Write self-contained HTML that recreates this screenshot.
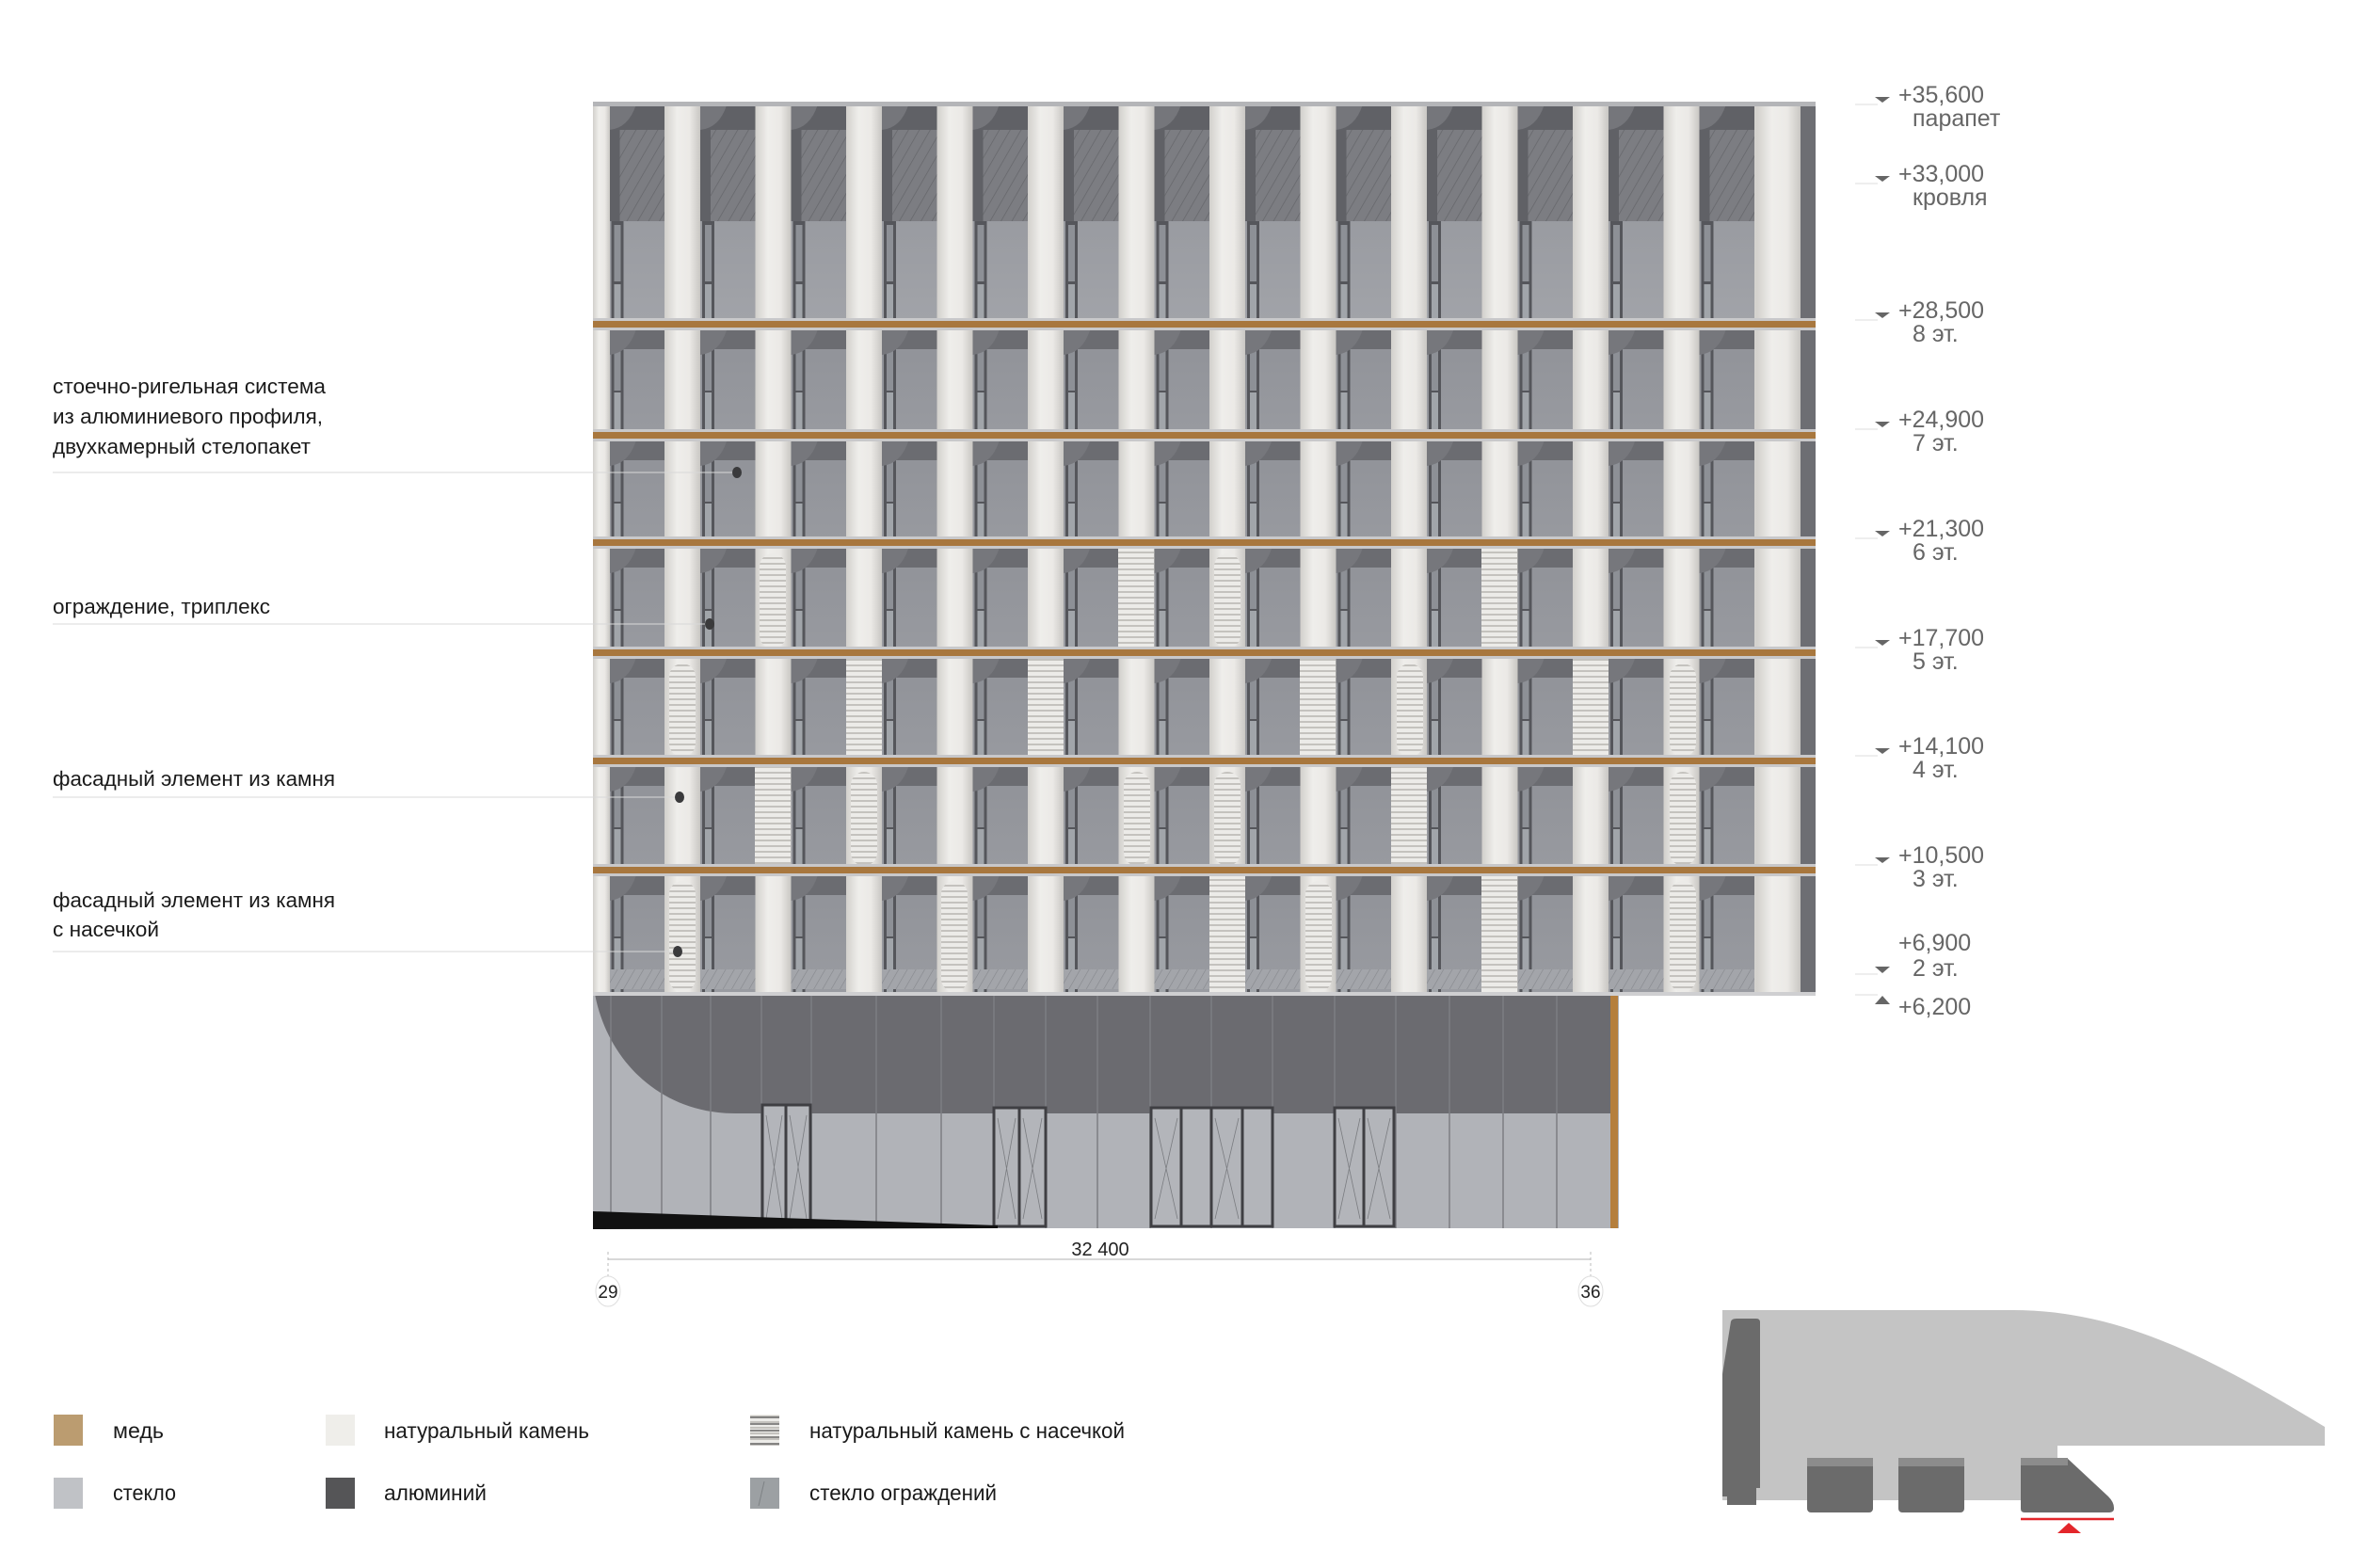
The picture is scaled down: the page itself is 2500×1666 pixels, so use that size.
<!DOCTYPE html>
<html><head><meta charset="utf-8"><style>
html,body{margin:0;padding:0;background:#fff;}
svg{display:block;}
text{font-family:"Liberation Sans","DejaVu Sans",sans-serif;}
</style></head><body>
<svg width="2500" height="1666" viewBox="0 0 2500 1666" xmlns="http://www.w3.org/2000/svg">
<defs>
<linearGradient id="stone" x1="0" x2="1" y1="0" y2="0">
<stop offset="0" stop-color="#d2d0cc"/><stop offset="0.35" stop-color="#efeeeb"/><stop offset="0.7" stop-color="#ebe9e6"/><stop offset="1" stop-color="#c9c7c3"/></linearGradient>
<linearGradient id="glassG" x1="0" x2="0" y1="0" y2="1">
<stop offset="0" stop-color="#909298"/><stop offset="1" stop-color="#aeb0b5"/></linearGradient>
<pattern id="hatch" width="10" height="10" patternUnits="userSpaceOnUse" patternTransform="rotate(30)">
<rect width="10" height="10" fill="#7c7d82"/><line x1="0" y1="0" x2="0" y2="10" stroke="#65666b" stroke-width="1.5"/></pattern>
<pattern id="hatchL" width="8" height="8" patternUnits="userSpaceOnUse" patternTransform="rotate(30)">
<rect width="8" height="8" fill="#a3a5aa"/><line x1="0" y1="0" x2="0" y2="8" stroke="#85878c" stroke-width="1.2"/></pattern>
<pattern id="stripe" width="10" height="6" patternUnits="userSpaceOnUse">
<rect width="10" height="6" fill="#ecebe8"/><rect y="4" width="10" height="2" fill="#c4c2be"/></pattern>
<g id="mod">
<rect x="0" y="0" width="96.5" height="400" fill="url(#glassG)"/>
<rect x="38" y="0" width="58.5" height="20" fill="#6b6c71"/>
<rect x="40" y="10" width="13" height="300" fill="#55565b"/>
<rect x="43" y="14" width="7" height="50" fill="#8d9096"/>
<rect x="43" y="66" width="7" height="300" fill="#a1a5aa"/>
<rect x="0" y="0" width="38" height="400" fill="url(#stone)"/>
<path d="M38,0 L38,26 Q58,24 66,0 Z" fill="#76777c"/>
</g>
<g id="modTop">
<rect x="0" y="0" width="96.5" height="400" fill="url(#glassG)"/>
<rect x="38" y="0" width="58.5" height="123" fill="#606166"/>
<rect x="49" y="26" width="47.5" height="97" fill="url(#hatch)"/>
<rect x="40" y="123" width="13" height="300" fill="#55565b"/>
<rect x="43" y="127" width="7" height="60" fill="#8d9096"/>
<rect x="43" y="190" width="7" height="300" fill="#a1a5aa"/>
<rect x="0" y="0" width="38" height="400" fill="url(#stone)"/>
<path d="M38,0 L38,26 Q58,24 66,0 Z" fill="#75767b"/>
</g>
<pattern id="pT" x="706" y="112" width="96.5" height="400" patternUnits="userSpaceOnUse"><use href="#modTop"/></pattern>
<pattern id="p1" x="706" y="351" width="96.5" height="400" patternUnits="userSpaceOnUse"><use href="#mod"/></pattern>
<pattern id="p2" x="706" y="469" width="96.5" height="400" patternUnits="userSpaceOnUse"><use href="#mod"/></pattern>
<pattern id="p3" x="706" y="583" width="96.5" height="400" patternUnits="userSpaceOnUse"><use href="#mod"/></pattern>
<pattern id="p4" x="706" y="700" width="96.5" height="400" patternUnits="userSpaceOnUse"><use href="#mod"/></pattern>
<pattern id="p5" x="706" y="815" width="96.5" height="400" patternUnits="userSpaceOnUse"><use href="#mod"/></pattern>
<pattern id="p6" x="706" y="931" width="96.5" height="400" patternUnits="userSpaceOnUse"><use href="#mod"/></pattern>
<pattern id="p6h" x="706" y="1030" width="96.5" height="40" patternUnits="userSpaceOnUse"><rect x="38" y="0" width="58.5" height="21" fill="url(#hatchL)"/></pattern>
</defs>

<!-- upper building -->
<rect x="630" y="112" width="1299" height="228" fill="url(#pT)"/>
<rect x="630" y="351" width="1299" height="107" fill="url(#p1)"/>
<rect x="630" y="469" width="1299" height="103" fill="url(#p2)"/>
<rect x="630" y="583" width="1299" height="106" fill="url(#p3)"/>
<rect x="630" y="700" width="1299" height="104" fill="url(#p4)"/>
<rect x="630" y="815" width="1299" height="105" fill="url(#p5)"/>
<rect x="630" y="931" width="1299" height="123" fill="url(#p6)"/>
<rect x="630" y="1030" width="1299" height="21" fill="url(#p6h)"/>
<!-- left stone edge -->
<rect x="630" y="112" width="18" height="942" fill="url(#stone)"/>
<!-- right end -->
<rect x="1866" y="112" width="47" height="942" fill="url(#stone)"/>
<rect x="1913" y="112" width="16" height="942" fill="#6d6e73"/>
<rect x="630" y="108" width="1299" height="5" fill="#b4b5b8"/>

<!-- textured pillars: flat striped -->
<g fill="url(#stripe)">
<rect x="1188" y="583" width="38" height="106"/><rect x="1574" y="583" width="38" height="106"/>
<rect x="899" y="700" width="38" height="104"/><rect x="1092" y="700" width="38" height="104"/><rect x="1381" y="700" width="38" height="104"/><rect x="1671" y="700" width="38" height="104"/>
<rect x="802" y="815" width="38" height="105"/><rect x="1478" y="815" width="38" height="105"/>
<rect x="1285" y="931" width="38" height="123"/><rect x="1574" y="931" width="38" height="123"/>
</g>
<!-- round striped -->
<g fill="url(#stripe)">
<rect x="807" y="588" width="28" height="101" rx="14"/><rect x="1290" y="588" width="28" height="101" rx="14"/>
<rect x="711" y="705" width="28" height="99" rx="14"/><rect x="1484" y="705" width="28" height="99" rx="14"/><rect x="1774" y="705" width="28" height="99" rx="14"/>
<rect x="904" y="820" width="28" height="100" rx="14"/><rect x="1194" y="820" width="28" height="100" rx="14"/><rect x="1290" y="820" width="28" height="100" rx="14"/><rect x="1774" y="820" width="28" height="100" rx="14"/>
<rect x="711" y="936" width="28" height="118" rx="14"/><rect x="1000" y="936" width="28" height="118" rx="14"/><rect x="1387" y="936" width="28" height="118" rx="14"/><rect x="1774" y="936" width="28" height="118" rx="14"/>
</g>

<!-- floor bands -->
<g>
<rect x="630" y="338" width="1299" height="13" fill="#c8c8ca"/><rect x="630" y="341" width="1299" height="7" fill="#a8773e"/>
<rect x="630" y="456" width="1299" height="13" fill="#c8c8ca"/><rect x="630" y="459" width="1299" height="7" fill="#a8773e"/>
<rect x="630" y="570" width="1299" height="13" fill="#c8c8ca"/><rect x="630" y="573" width="1299" height="7" fill="#a8773e"/>
<rect x="630" y="687" width="1299" height="13" fill="#c8c8ca"/><rect x="630" y="690" width="1299" height="7" fill="#a8773e"/>
<rect x="630" y="802" width="1299" height="13" fill="#c8c8ca"/><rect x="630" y="805" width="1299" height="7" fill="#a8773e"/>
<rect x="630" y="918" width="1299" height="13" fill="#c8c8ca"/><rect x="630" y="921" width="1299" height="7" fill="#a8773e"/>
</g>

<!-- podium -->
<rect x="630" y="1054" width="1090" height="251" fill="#b1b3b8"/>
<path d="M630,1056 L1714,1056 L1714,1183 L781,1183 C700,1183 645,1125 632,1056 Z" fill="#6b6b70"/>
<rect x="630" y="1054" width="1299" height="4" fill="#cfcfd1"/>
<g stroke="#7d7e83" stroke-width="1.5">
<line x1="649" y1="1058" x2="649" y2="1305"/><line x1="703" y1="1058" x2="703" y2="1305"/><line x1="755" y1="1058" x2="755" y2="1305"/><line x1="809" y1="1058" x2="809" y2="1305"/><line x1="862" y1="1058" x2="862" y2="1305"/><line x1="931" y1="1058" x2="931" y2="1305"/><line x1="1000" y1="1058" x2="1000" y2="1305"/><line x1="1056" y1="1058" x2="1056" y2="1305"/><line x1="1111" y1="1058" x2="1111" y2="1305"/><line x1="1166" y1="1058" x2="1166" y2="1305"/><line x1="1222" y1="1058" x2="1222" y2="1305"/><line x1="1287" y1="1058" x2="1287" y2="1305"/><line x1="1352" y1="1058" x2="1352" y2="1305"/><line x1="1418" y1="1058" x2="1418" y2="1305"/><line x1="1483" y1="1058" x2="1483" y2="1305"/><line x1="1540" y1="1058" x2="1540" y2="1305"/><line x1="1597" y1="1058" x2="1597" y2="1305"/><line x1="1654" y1="1058" x2="1654" y2="1305"/>
</g>
<g fill="#b3b5ba" stroke="#3f3f43" stroke-width="3">
<rect x="810" y="1174" width="51" height="129"/><rect x="1056" y="1177" width="55" height="126"/><rect x="1223" y="1177" width="129" height="126"/><rect x="1418" y="1177" width="63" height="126"/>
</g>
<g stroke="#3f3f43" stroke-width="3">
<line x1="835" y1="1174" x2="835" y2="1303"/><line x1="1083" y1="1177" x2="1083" y2="1303"/><line x1="1255" y1="1177" x2="1255" y2="1303"/><line x1="1287" y1="1177" x2="1287" y2="1303"/><line x1="1320" y1="1177" x2="1320" y2="1303"/><line x1="1449" y1="1177" x2="1449" y2="1303"/>
</g>
<g stroke="#7a7c80" stroke-width="0.8" fill="none">
<path d="M814,1185 L831,1295 M831,1185 L814,1295 M839,1185 L857,1295 M857,1185 L839,1295"/>
<path d="M1060,1188 L1079,1295 M1079,1188 L1060,1295 M1087,1188 L1107,1295 M1107,1188 L1087,1295"/>
<path d="M1227,1188 L1251,1295 M1251,1188 L1227,1295 M1291,1188 L1316,1295 M1316,1188 L1291,1295"/>
<path d="M1422,1188 L1445,1295 M1445,1188 L1422,1295 M1453,1188 L1477,1295 M1477,1188 L1453,1295"/>
</g>
<rect x="1711" y="1058" width="8" height="247" fill="#b57f3d"/>
<polygon points="630,1287 1060,1302 1060,1305 630,1306" fill="#111"/>

<!-- dimension -->
<line x1="646" y1="1338" x2="1690" y2="1338" stroke="#ccc" stroke-width="1.5"/>
<line x1="646" y1="1330" x2="646" y2="1358" stroke="#bbb" stroke-width="1" stroke-dasharray="3,3"/>
<line x1="1690" y1="1330" x2="1690" y2="1358" stroke="#bbb" stroke-width="1" stroke-dasharray="3,3"/>
<text x="1169" y="1334" font-size="20" text-anchor="middle" fill="#222">32 400</text>
<ellipse cx="646" cy="1372" rx="13" ry="16" fill="#fff" stroke="#ddd"/>
<ellipse cx="1690" cy="1372" rx="13" ry="16" fill="#fff" stroke="#ddd"/>
<text x="646" y="1379" font-size="19" text-anchor="middle" fill="#222">29</text>
<text x="1690" y="1379" font-size="19" text-anchor="middle" fill="#222">36</text>

<!-- leader labels -->
<g fill="#1a1a1a" font-size="22">
<text x="56" y="418" textLength="290" lengthAdjust="spacingAndGlyphs">стоечно-ригельная система</text>
<text x="56" y="450" textLength="287" lengthAdjust="spacingAndGlyphs">из алюминиевого профиля,</text>
<text x="56" y="482" textLength="274" lengthAdjust="spacingAndGlyphs">двухкамерный стелопакет</text>
<text x="56" y="652" textLength="231" lengthAdjust="spacingAndGlyphs">ограждение, триплекс</text>
<text x="56" y="835" textLength="300" lengthAdjust="spacingAndGlyphs">фасадный элемент из камня</text>
<text x="56" y="964" textLength="300" lengthAdjust="spacingAndGlyphs">фасадный элемент из камня</text>
<text x="56" y="995" textLength="113" lengthAdjust="spacingAndGlyphs">с насечкой</text>
</g>
<g stroke="#d8d8d8" stroke-width="1">
<line x1="56" y1="502" x2="783" y2="502"/><line x1="56" y1="663" x2="752" y2="663"/><line x1="56" y1="847" x2="722" y2="847"/><line x1="56" y1="1011" x2="720" y2="1011"/>
</g>
<g fill="#3a3a3c">
<ellipse cx="783" cy="502" rx="5" ry="6"/><ellipse cx="754" cy="663" rx="5" ry="6"/><ellipse cx="722" cy="847" rx="5" ry="6"/><ellipse cx="720" cy="1011" rx="5" ry="6"/>
</g>

<!-- levels -->
<g fill="#666" font-size="25">
<text x="2017" y="109">+35,600</text><text x="2032" y="134">парапет</text>
<text x="2017" y="193">+33,000</text><text x="2032" y="218">кровля</text>
<text x="2017" y="338">+28,500</text><text x="2032" y="363">8 эт.</text>
<text x="2017" y="454">+24,900</text><text x="2032" y="479">7 эт.</text>
<text x="2017" y="570">+21,300</text><text x="2032" y="595">6 эт.</text>
<text x="2017" y="686">+17,700</text><text x="2032" y="711">5 эт.</text>
<text x="2017" y="801">+14,100</text><text x="2032" y="826">4 эт.</text>
<text x="2017" y="917">+10,500</text><text x="2032" y="942">3 эт.</text>
<text x="2017" y="1010">+6,900</text><text x="2032" y="1037">2 эт.</text>
<text x="2017" y="1078">+6,200</text>
</g>
<g fill="#666">
<polygon points="1992,103 2008,103 2000,109"/><polygon points="1992,187 2008,187 2000,193"/><polygon points="1992,332 2008,332 2000,338"/><polygon points="1992,448 2008,448 2000,454"/><polygon points="1992,564 2008,564 2000,570"/><polygon points="1992,680 2008,680 2000,686"/><polygon points="1992,795 2008,795 2000,801"/><polygon points="1992,911 2008,911 2000,917"/><polygon points="1992,1027 2008,1027 2000,1034"/><polygon points="1992,1067 2008,1067 2000,1058"/>
</g>
<g stroke="#ddd" stroke-width="1">
<line x1="1971" y1="111" x2="1995" y2="111"/><line x1="1971" y1="195" x2="1995" y2="195"/><line x1="1971" y1="340" x2="1995" y2="340"/><line x1="1971" y1="456" x2="1995" y2="456"/><line x1="1971" y1="572" x2="1995" y2="572"/><line x1="1971" y1="688" x2="1995" y2="688"/><line x1="1971" y1="803" x2="1995" y2="803"/><line x1="1971" y1="919" x2="1995" y2="919"/><line x1="1971" y1="1035" x2="1995" y2="1035"/><line x1="1971" y1="1057" x2="1995" y2="1057"/>
</g>

<!-- legend -->
<rect x="57" y="1503" width="31" height="33" fill="#bb9c70"/>
<rect x="57" y="1570" width="31" height="33" fill="#c0c2c6"/>
<rect x="346" y="1503" width="31" height="33" fill="#efeeea"/>
<rect x="346" y="1570" width="31" height="33" fill="#555557"/>
<rect x="797" y="1503" width="31" height="33" fill="url(#stripe)"/>
<g stroke="#666" stroke-width="1.5"><line x1="797" y1="1506" x2="828" y2="1506"/><line x1="797" y1="1513" x2="828" y2="1513"/><line x1="797" y1="1520" x2="828" y2="1520"/><line x1="797" y1="1527" x2="828" y2="1527"/><line x1="797" y1="1534" x2="828" y2="1534"/></g>
<rect x="797" y="1570" width="31" height="33" fill="#9ca0a3"/>
<line x1="806" y1="1600" x2="812" y2="1574" stroke="#7e8285" stroke-width="1"/>
<g fill="#1a1a1a" font-size="23">
<text x="120" y="1528" textLength="54" lengthAdjust="spacingAndGlyphs">медь</text>
<text x="120" y="1594" textLength="67" lengthAdjust="spacingAndGlyphs">стекло</text>
<text x="408" y="1528" textLength="218" lengthAdjust="spacingAndGlyphs">натуральный камень</text>
<text x="408" y="1594" textLength="109" lengthAdjust="spacingAndGlyphs">алюминий</text>
<text x="860" y="1528" textLength="335" lengthAdjust="spacingAndGlyphs">натуральный камень с насечкой</text>
<text x="860" y="1594" textLength="199" lengthAdjust="spacingAndGlyphs">стекло ограждений</text>
</g>

<!-- key plan -->
<path d="M1830,1392 L2139,1392 C2260,1392 2360,1450 2470,1516 L2470,1536 L2186,1536 L2186,1594 L1830,1594 Z" fill="#c4c4c4"/>
<path d="M1830,1460 L1839,1404 Q1840,1401 1845,1401 L1866,1401 Q1870,1401 1870,1405 L1870,1581 L1866,1581 L1866,1599 L1835,1599 L1835,1590 L1830,1590 Z" fill="#6b6b6b"/>
<rect x="1920" y="1549" width="70" height="58" rx="4" fill="#6b6b6b"/>
<rect x="1920" y="1549" width="70" height="9" fill="#8c8c8c"/>
<rect x="2017" y="1549" width="70" height="58" rx="4" fill="#6b6b6b"/>
<rect x="2017" y="1549" width="70" height="9" fill="#8c8c8c"/>
<path d="M2147,1552 L2196,1549 L2240,1590 Q2246,1596 2246,1602 L2246,1603 Q2246,1607 2240,1607 L2151,1607 Q2147,1607 2147,1603 Z" fill="#6b6b6b"/>
<rect x="2147" y="1549" width="50" height="8" fill="#8c8c8c"/>
<line x1="2147" y1="1614" x2="2246" y2="1614" stroke="#e3262b" stroke-width="2.5"/>
<polygon points="2198,1618 2186,1629 2211,1629" fill="#e3262b"/>
</svg>
</body></html>
